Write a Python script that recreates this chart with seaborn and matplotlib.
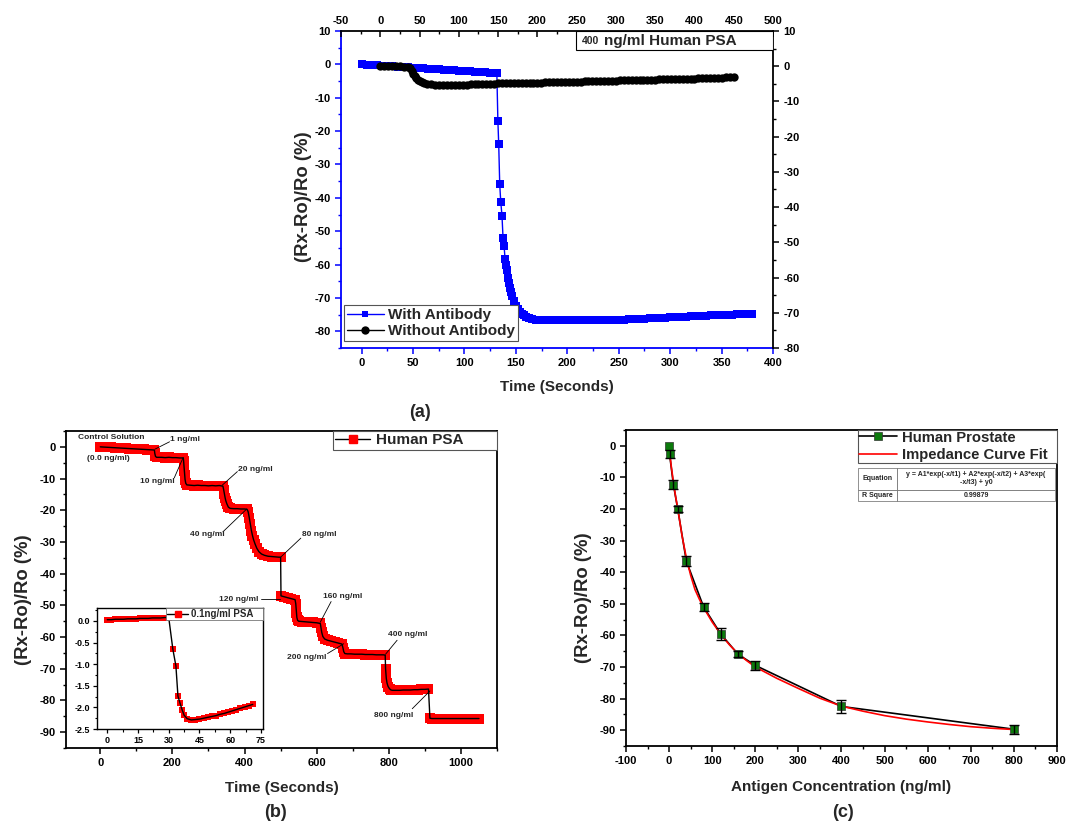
import numpy as np
import pandas as pd
import matplotlib
matplotlib.use('Agg')
import matplotlib.pyplot as plt
from matplotlib.lines import Line2D
from matplotlib.patches import Rectangle
from matplotlib.ticker import MultipleLocator
import seaborn as sns

sns.set_style('ticks')
plt.rcParams['font.family'] = ['Liberation Sans', 'DejaVu Sans']
plt.rcParams['font.weight'] = 'bold'
plt.rcParams['axes.labelweight'] = 'bold'
plt.rcParams['axes.edgecolor'] = 'black'
plt.rcParams['xtick.color'] = 'black'
plt.rcParams['ytick.color'] = 'black'
plt.rcParams['axes.linewidth'] = 1.3
plt.rcParams['axes.unicode_minus'] = False

# ---------------- data: (a) 400 ng/ml response with / without antibody
t_with = [0, 5, 10, 15, 20, 25, 30, 35, 40, 45, 50, 55, 60, 65, 70, 75, 80, 85, 90, 95,
          100, 105, 110, 115, 120, 125, 130,
          131.5, 132.5, 133.3, 134.3, 135.3, 136.5, 137.5, 138.5, 139.5, 140.3,
          141, 142, 143, 144, 145, 146, 148, 150, 152, 154, 156, 158, 160, 163, 166, 170, 175, 180,
          185, 190, 195, 200, 205, 210, 215, 220, 225, 230, 235, 240, 245, 250, 255,
          260, 265, 270, 275, 280, 285, 290, 295, 300, 305, 310, 315, 320, 325, 330,
          335, 340, 345, 350, 355, 360, 365, 370, 375, 380]
y_with = [0.0, -0.1, -0.2, -0.3, -0.4, -0.5, -0.6, -0.7, -0.8, -0.9, -1.0, -1.1, -1.2, -1.3,
          -1.4, -1.5, -1.6, -1.7, -1.8, -1.9, -2.0, -2.1, -2.2, -2.3, -2.4, -2.5, -2.6,
          -2.7, -17.0, -23.8, -36.0, -41.2, -45.4, -51.9, -54.3, -58.4, -60.0,
          -61.5, -64.0, -65.5, -67.0, -68.2, -69.3, -71.0, -72.3, -73.3, -74.1, -74.7, -75.2,
          -75.6, -76.0, -76.3, -76.5, -76.5, -76.5,
          -76.5, -76.5, -76.5, -76.5, -76.5, -76.5, -76.5, -76.5, -76.5, -76.5, -76.5, -76.5,
          -76.5, -76.5, -76.5,
          -76.4, -76.3, -76.3, -76.2, -76.1, -76.0, -75.9, -75.9, -75.8, -75.7, -75.6, -75.6,
          -75.5, -75.4, -75.4, -75.3, -75.2, -75.2, -75.1, -75.0, -75.0, -74.9, -74.8, -74.8, -74.7]

t_without = [0, 5, 10, 15, 20, 25, 30, 35, 38, 40, 42, 44, 46, 48, 50, 53, 56, 60,
             65, 70, 75, 80, 85, 90, 95, 100, 105, 110, 115, 120, 125, 130, 135, 140, 145, 150,
             155, 160, 165, 170, 175, 180, 185, 190, 195, 200, 205, 210, 215, 220, 225,
             230, 235, 240, 245, 250, 255, 260, 265, 270, 275, 280, 285, 290, 295, 300,
             305, 310, 315, 320, 325, 330, 335, 340, 345, 350, 355, 360, 365, 370, 375,
             380, 385, 390, 395, 400, 405, 410, 415, 420, 425, 430, 435, 440, 445, 450]
y_without = [0.0, 0.0, 0.0, 0.0, 0.0, -0.05, -0.1, -0.2, -0.5, -1.4, -2.2, -2.9, -3.4, -3.8,
             -4.1, -4.5, -4.8, -5.0,
             -5.1, -5.2, -5.2, -5.2, -5.2, -5.2, -5.2, -5.2, -5.2, -5.2, -5.15, -5.1, -5.1,
             -5.05, -5.0, -5.0, -4.95, -4.9,
             -4.88, -4.85, -4.83, -4.8, -4.78, -4.75, -4.73, -4.7, -4.68, -4.65, -4.63, -4.6,
             -4.58, -4.55, -4.53, -4.5, -4.48, -4.45, -4.43, -4.4, -4.35, -4.3, -4.28, -4.25,
             -4.23, -4.2, -4.18, -4.15, -4.13, -4.1, -4.05, -4.0, -3.98, -3.95, -3.93, -3.9,
             -3.88, -3.85, -3.83, -3.8, -3.75, -3.7, -3.68, -3.65, -3.63, -3.6, -3.58, -3.55,
             -3.53, -3.5, -3.45, -3.4, -3.38, -3.35, -3.33, -3.3, -3.25, -3.2, -3.18, -3.15]

# ---------------- data: (b) stepwise PSA additions
t_psa = [0, 10, 20, 30, 40, 50, 60, 70, 80, 90, 100, 110, 120, 130, 140, 150,
         151, 153, 156, 160, 170, 180, 190, 200, 210, 220, 230,
         231, 232, 233, 234, 235, 237, 240, 250, 260, 270, 280, 290, 300, 310, 320, 330, 340,
         342, 344, 346, 348, 351, 355, 360, 370, 380, 390, 400, 407,
         410, 413, 416, 419, 422, 425, 429, 434, 440, 447, 455, 465, 475, 485, 495, 500,
         501, 510, 520, 530, 540,
         542, 543, 544, 545, 547, 550, 560, 570, 580, 590, 600, 610,
         612, 614, 617, 622, 630, 640, 650, 660, 670,
         673, 675, 678, 685, 695, 705, 715, 725, 735, 745, 755, 765, 775, 785, 790,
         791, 792, 793, 795, 798, 802, 806, 810, 820, 830, 840, 850, 860, 870, 880, 890, 900, 910,
         914, 920, 930, 940, 950, 960, 970, 980, 990, 1000, 1010, 1020, 1030, 1040, 1050]
y_psa = [0.0, -0.07, -0.13, -0.2, -0.27, -0.33, -0.4, -0.47, -0.53, -0.6, -0.67, -0.73, -0.8,
         -0.87, -0.93, -1.0,
         -2.0, -3.0, -3.3, -3.3, -3.3, -3.4, -3.3, -3.4, -3.4, -3.5, -3.5,
         -4.5, -6.0, -7.5, -9.0, -10.3, -11.5, -12.0, -12.1, -12.2, -12.1, -12.2, -12.2, -12.3,
         -12.2, -12.3, -12.2, -12.4,
         -13.5, -14.8, -16.0, -17.0, -18.0, -19.0, -19.4, -19.5, -19.5, -19.6, -19.6, -19.7,
         -20.5, -22.3, -24.3, -26.4, -28.0, -29.3, -30.6, -32.0, -33.1, -33.8, -34.2, -34.5,
         -34.6, -34.7, -34.8, -34.8,
         -47.0, -47.3, -47.6, -47.9, -48.2,
         -49.5, -51.0, -52.5, -53.8, -54.7, -55.0, -55.1, -55.2, -55.3, -55.4, -55.5, -55.7,
         -57.0, -58.5, -59.8, -60.6, -61.0, -61.3, -61.6, -61.9, -62.2,
         -63.5, -64.6, -65.2, -65.3, -65.3, -65.4, -65.4, -65.4, -65.5, -65.5, -65.5, -65.6,
         -65.6, -65.6, -65.7,
         -70.0, -71.5, -73.0, -74.5, -75.6, -76.3, -76.7, -76.8, -76.8, -76.8, -76.7, -76.7,
         -76.7, -76.6, -76.6, -76.5, -76.5, -76.4,
         -85.6, -85.7, -85.7, -85.7, -85.7, -85.7, -85.7, -85.7, -85.7, -85.7, -85.7, -85.7,
         -85.7, -85.7, -85.7]

step_labels = ['Control Solution', '(0.0 ng/ml)', '1 ng/ml', '10 ng/ml', '20 ng/ml', '40 ng/ml',
               '80 ng/ml', '120 ng/ml', '160 ng/ml', '200 ng/ml', '400 ng/ml', '800 ng/ml']

# inset: 0.1 ng/ml PSA
t_low = [0, 2, 4, 6, 8, 10, 12, 14, 16, 18, 20, 22, 24, 26, 28, 30,
         32, 33.5, 34.5, 35.5, 36.5, 37.5, 39, 41,
         43, 45, 47, 49, 51, 53, 55, 57, 59, 61, 63, 65, 67, 69, 71]
y_low = [0.03, 0.03, 0.04, 0.04, 0.04, 0.05, 0.05, 0.05, 0.06, 0.06, 0.06, 0.07, 0.07, 0.07,
         0.08, 0.08,
         -0.65, -1.04, -1.74, -1.9, -2.05, -2.18, -2.26, -2.29,
         -2.28, -2.27, -2.25, -2.23, -2.21, -2.19, -2.16, -2.14, -2.11, -2.08, -2.05, -2.02,
         -1.99, -1.96, -1.93]

# ---------------- data: (c) calibration
conc = [0, 1, 10, 20, 40, 80, 120, 160, 200, 400, 800]
resp = [0.0, -2.6, -12.3, -20.0, -36.5, -51.0, -59.6, -66.0, -69.5, -82.5, -89.7]
resp_err = [0.0, 1.4, 1.4, 0.9, 1.7, 1.3, 1.8, 1.0, 1.5, 2.2, 1.4]

x_fit = [0, 5, 10, 15, 20, 30, 40, 50, 60, 70, 80, 100, 120, 140, 160, 180, 200, 250, 300,
         350, 400, 450, 500, 550, 600, 650, 700, 750, 800]
y_fit = [-0.6, -6.5, -11.5, -16.0, -19.8, -28.5, -35.5, -41.0, -45.5, -48.5, -51.2, -55.8,
         -59.7, -63.0, -65.8, -68.0, -70.0, -73.6, -76.8, -79.9, -82.4, -84.0, -85.4, -86.5,
         -87.4, -88.2, -88.9, -89.4, -89.8]
fit_table = [['Equation', 'y = A1*exp(-x/t1) + A2*exp(-x/t2) + A3*exp(\n-x/t3) + y0'],
             ['R Square', '0.99879']]

green = '#0c7a0c'
ylab = '(Rx-Ro)/Ro (%)'

fig = plt.figure(figsize=(10.67, 8.26), dpi=100)

# ================= (a)
rect_a = [0.3196, 0.5787, 0.4049, 0.3838]
ax = fig.add_axes(rect_a)
ax2 = fig.add_axes(rect_a)
ax2.patch.set_visible(False)

sns.lineplot(x=t_with, y=y_with, ax=ax, color='blue', lw=1, marker='s', markersize=5.3,
             markeredgewidth=0, estimator=None, sort=False)
sns.lineplot(x=t_without, y=y_without, ax=ax2, color='black', lw=1, marker='o', markersize=6,
             markeredgewidth=0, estimator=None, sort=False)

ax.set_xlim(-20, 400)
ax.set_ylim(-85, 10)
ax2.set_xlim(-50, 500)
ax2.set_ylim(-80, 10)

ax.xaxis.set_major_locator(MultipleLocator(50))
ax.xaxis.set_minor_locator(MultipleLocator(25))
ax.yaxis.set_major_locator(MultipleLocator(10))
ax.yaxis.set_minor_locator(MultipleLocator(5))
ax2.xaxis.set_major_locator(MultipleLocator(50))
ax2.xaxis.set_minor_locator(MultipleLocator(25))
ax2.yaxis.set_major_locator(MultipleLocator(10))
ax2.yaxis.set_minor_locator(MultipleLocator(5))

for s in ['top', 'right']:
    ax.spines[s].set_visible(False)
for s in ['left', 'bottom']:
    ax.spines[s].set_color('blue')
    ax2.spines[s].set_visible(False)
ax.tick_params(which='both', direction='out', color='blue', labelsize=8)
ax.tick_params(which='major', length=4, width=1.1)
ax.tick_params(which='minor', length=2.5, width=1.0)

ax2.xaxis.tick_top()
ax2.yaxis.tick_right()
ax2.tick_params(axis='x', which='both', direction='in')
ax2.tick_params(axis='y', which='both', direction='out')
ax2.tick_params(which='both', labelsize=8)
ax2.tick_params(which='major', length=4, width=1.1)
ax2.tick_params(which='minor', length=2.5, width=1.0)

ax.set_xlabel('Time (Seconds)', fontsize=11, labelpad=8)
ax.set_ylabel(ylab, fontsize=13.3)
ax.yaxis.set_label_coords(-0.067, 0.478)

ax2.add_patch(Rectangle((0.544, 0.94), 0.456, 0.06, transform=ax2.transAxes,
                        facecolor='white', edgecolor='black', lw=0.8, zorder=5))
ax2.text(0.557, 0.968, '400', fontsize=7.5, va='center', transform=ax2.transAxes, zorder=6)
ax2.text(0.609, 0.968, 'ng/ml Human PSA', fontsize=11, va='center',
         transform=ax2.transAxes, zorder=6)

handles_a = [Line2D([], [], color='blue', lw=1, marker='s', markersize=5, markeredgewidth=0),
             Line2D([], [], color='black', lw=1, marker='o', markersize=6, markeredgewidth=0)]
leg = ax2.legend(handles_a, ['With Antibody', 'Without Antibody'], loc='lower left',
                 bbox_to_anchor=(0.007, 0.022), fontsize=11, fancybox=False, framealpha=1,
                 edgecolor='#555555', borderpad=0.2, labelspacing=0.1, handlelength=2.4,
                 handletextpad=0.3, borderaxespad=0)
leg.get_frame().set_linewidth(0.8)

# ================= (b)
axb = fig.add_axes([0.0619, 0.0944, 0.4039, 0.3838])
sns.scatterplot(x=t_psa, y=y_psa, ax=axb, color='red', marker='s', s=42, linewidth=0, zorder=2)
sns.lineplot(x=t_psa, y=y_psa, ax=axb, color='black', lw=1, estimator=None, sort=False, zorder=3)
axb.set_xlim(-95, 1100)
axb.set_ylim(-95, 5)
axb.xaxis.set_major_locator(MultipleLocator(200))
axb.xaxis.set_minor_locator(MultipleLocator(100))
axb.yaxis.set_major_locator(MultipleLocator(10))
axb.yaxis.set_minor_locator(MultipleLocator(5))
axb.tick_params(which='both', direction='out', labelsize=8, top=False, right=False)
axb.tick_params(which='major', length=4, width=1.1)
axb.tick_params(which='minor', length=2.5, width=1.0)
axb.set_xlabel('Time (Seconds)', fontsize=11, labelpad=9)
axb.set_ylabel(ylab, fontsize=13.3)
axb.yaxis.set_label_coords(-0.079, 0.467)

# label centres and the point each leader line touches
text_xy = [(30, 2.8), (22, -3.8), (235, 2.3), (158, -10.9), (430, -7.0), (298, -27.8),
           (608, -27.8), (383, -48.0), (672, -47.2), (573, -66.5), (851, -59.2), (814, -84.7)]
lead_from = [None, None, (192, 1.6), (205, -9.8), (380, -7.8), (340, -26.8), (556, -28.8),
             (446, -47.9), (640, -48.8), (630, -65.2), (823, -61.0), (865, -82.6)]
lead_to = [None, None, (152, -0.7), (230, -3.3), (338, -12.1), (406, -19.6), (501, -34.7),
           (499, -47.9), (610, -55.3), (675, -62.1), (791, -65.4), (914, -77.0)]
for lab, xy, p0, p1 in zip(step_labels, text_xy, lead_from, lead_to):
    axb.text(xy[0], xy[1], lab, fontsize=6, ha='center', va='center', zorder=5)
    if p0 is not None:
        axb.plot([p0[0], p1[0]], [p0[1], p1[1]], color='black', lw=0.6, zorder=4)

hb = [Line2D([], [], color='black', lw=1, marker='s', markersize=6,
             markerfacecolor='red', markeredgecolor='red')]
legb = axb.legend(hb, ['Human PSA'], loc='upper left', bbox_to_anchor=(0.619, 0.0, 0.381, 1.0),
                  mode='expand', fontsize=11, fancybox=False, framealpha=1, edgecolor='#555555',
                  borderpad=0.15, handlelength=2.3, handletextpad=0.4, borderaxespad=0)
legb.get_frame().set_linewidth(0.8)

# inset
axi = fig.add_axes([0.0909, 0.1174, 0.1556, 0.1465])
sns.scatterplot(x=t_low, y=y_low, ax=axi, color='red', marker='s', s=14, linewidth=0, zorder=2)
sns.lineplot(x=t_low, y=y_low, ax=axi, color='black', lw=1, estimator=None, sort=False, zorder=3)
axi.set_xlim(-5, 76)
axi.set_ylim(-2.5, 0.3)
axi.xaxis.set_major_locator(MultipleLocator(15))
axi.xaxis.set_minor_locator(MultipleLocator(7.5))
axi.yaxis.set_major_locator(MultipleLocator(0.5))
axi.yaxis.set_minor_locator(MultipleLocator(0.25))
axi.tick_params(which='both', direction='out', labelsize=6.5, pad=2)
axi.tick_params(which='major', length=3, width=0.9)
axi.tick_params(which='minor', length=1.8, width=0.8)
for s in axi.spines.values():
    s.set_linewidth(1.0)
hi = [Line2D([], [], color='black', lw=1, marker='s', markersize=4,
             markerfacecolor='red', markeredgecolor='red')]
legi = axi.legend(hi, ['0.1ng/ml PSA'], loc='upper left', bbox_to_anchor=(0.416, 0.0, 0.584, 1.0),
                  mode='expand', fontsize=7, fancybox=False, framealpha=1, edgecolor='#777777',
                  borderpad=0.1, handlelength=2.2, handletextpad=0.3, borderaxespad=0)
legi.get_frame().set_linewidth(0.6)

# ================= (c)
axc = fig.add_axes([0.5867, 0.0969, 0.4039, 0.3826])
sns.lineplot(x=conc, y=resp, ax=axc, color='black', lw=1.2, estimator=None, sort=False, zorder=2)
sns.lineplot(x=x_fit, y=y_fit, ax=axc, color='red', lw=1.2, estimator=None, sort=False, zorder=3)
sns.scatterplot(x=conc, y=resp, ax=axc, color=green, marker='s', s=34, edgecolor='#333333',
                linewidth=0.5, zorder=4)
axc.errorbar(conc[1:], resp[1:], yerr=resp_err[1:], fmt='none', ecolor='black',
             elinewidth=1, capsize=3.5, capthick=1, zorder=5)
axc.set_xlim(-100, 900)
axc.set_ylim(-95, 5)
axc.xaxis.set_major_locator(MultipleLocator(100))
axc.xaxis.set_minor_locator(MultipleLocator(50))
axc.yaxis.set_major_locator(MultipleLocator(10))
axc.yaxis.set_minor_locator(MultipleLocator(5))
axc.tick_params(which='both', direction='out', labelsize=8, top=False, right=False)
axc.tick_params(which='major', length=4, width=1.1)
axc.tick_params(which='minor', length=2.5, width=1.0)
axc.set_xlabel('Antigen Concentration (ng/ml)', fontsize=11, labelpad=10)
axc.set_ylabel(ylab, fontsize=13.3)
axc.yaxis.set_label_coords(-0.079, 0.468)

hc = [Line2D([], [], color='black', lw=1.2, marker='s', markersize=6,
             markerfacecolor=green, markeredgecolor='#333333', markeredgewidth=0.5),
      Line2D([], [], color='red', lw=1.2)]
legc = axc.legend(hc, ['Human Prostate', 'Impedance Curve Fit'], loc='upper left',
                  bbox_to_anchor=(0.538, 0.0, 0.462, 1.0), mode='expand', fontsize=10.7,
                  fancybox=False, framealpha=1, edgecolor='#555555', borderpad=0.05,
                  labelspacing=0.22, handlelength=2.6, handletextpad=0.3, borderaxespad=0)
legc.get_frame().set_linewidth(0.8)

tab = axc.table(cellText=fit_table, colWidths=[0.2, 0.8], cellLoc='center',
                bbox=[0.538, 0.775, 0.457, 0.105], zorder=6)
tab.auto_set_font_size(False)
tab.set_fontsize(5)
for (r, c), cell in tab.get_celld().items():
    cell.set_height(2.0 if r == 0 else 1.0)
    cell.set_edgecolor('#666666')
    cell.set_linewidth(0.5)
    cell.get_text().set_fontweight('bold')

# panel letters
fig.text(0.394, 0.501, '(a)', fontsize=13, ha='center', va='center')
fig.text(0.258, 0.016, '(b)', fontsize=13, ha='center', va='center')
fig.text(0.790, 0.016, '(c)', fontsize=13, ha='center', va='center')

fig.savefig('out.png', dpi=100)
